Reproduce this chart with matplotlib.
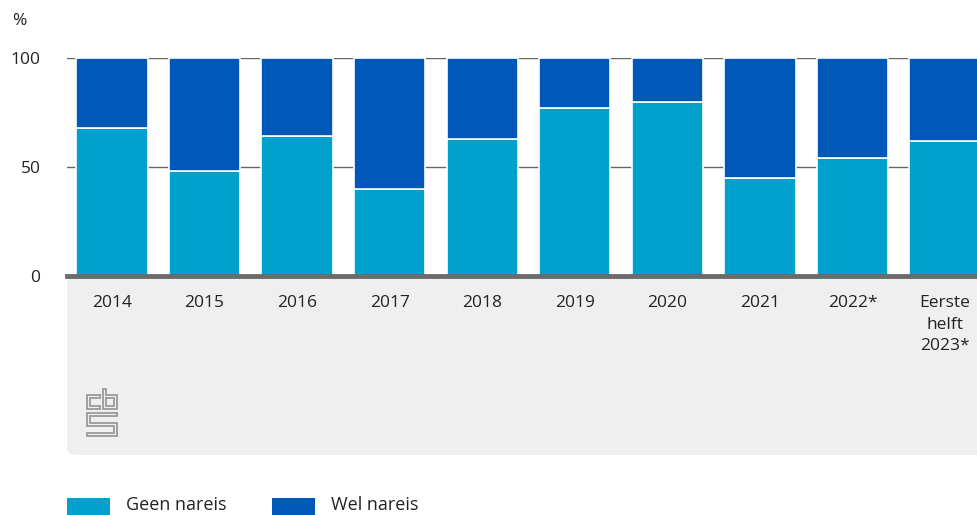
import numpy as np
import matplotlib
matplotlib.use('Agg')
import matplotlib.pyplot as plt
from matplotlib.patches import FancyBboxPatch, Rectangle

plt.rcParams['font.family'] = ['Open Sans', 'DejaVu Sans']

years = ['2014', '2015', '2016', '2017', '2018', '2019', '2020', '2021', '2022*', 'Eerste\nhelft\n2023*']
geen_nareis = [68, 48, 64, 40, 63, 77, 80, 45, 54, 62]
wel_nareis = [100 - v for v in geen_nareis]
series_labels = ['Geen nareis', 'Wel nareis']
colors = ['#00a1cd', '#0058b8']

W, H = 977, 515
fig = plt.figure(figsize=(W / 100, H / 100), dpi=100)

def fx(px):
    return px / W

def fy(py):
    return 1 - py / H

# grey band behind the category labels
band = FancyBboxPatch((fx(67), fy(455)), fx(1100 - 67), fy(277) - fy(455),
                      boxstyle='round,pad=0,rounding_size=0.012', transform=fig.transFigure,
                      facecolor='#efefef', edgecolor='none', zorder=0)
fig.add_artist(band)

ax = fig.add_axes([fx(67), fy(276), fx(990 - 67), fy(58) - fy(276)])
ax.set_facecolor('none')
x = np.arange(len(years))
ax.bar(x, geen_nareis, width=0.77, color=colors[0], edgecolor='white', linewidth=1.2, zorder=3)
ax.bar(x, wel_nareis, width=0.77, bottom=geen_nareis, color=colors[1], edgecolor='white', linewidth=1.2, zorder=3)
ax.set_xlim(-0.485, len(years) - 1 + 0.485)
ax.set_ylim(0, 100)
for yv in [50, 100]:
    ax.axhline(yv, color='#666666', linewidth=1, zorder=1)
ax.axhline(0, color='#6b6b6b', linewidth=3.5, zorder=4, clip_on=False)
for s in ax.spines.values():
    s.set_visible(False)
ax.set_yticks([0, 50, 100])
ax.set_yticklabels(['0', '50', '100'], fontsize=12.5, color='#222222')
ax.tick_params(axis='y', length=0, pad=19)
ax.set_xticks(x)
ax.set_xticklabels(years, fontsize=12.5, color='#222222', linespacing=1.45, va='top')
ax.tick_params(axis='x', length=0, pad=14)

fig.text(fx(12), fy(21), '%', fontsize=12.5, color='#222222', va='center')

# cbs logo
lax = fig.add_axes([fx(84), fy(439), fx(36), fy(386) - fy(439)])
lax.set_xlim(84, 120)
lax.set_ylim(439, 386)
lax.axis('off')
lc = '#9a9a9a'
logo_paths = [
    [(100, 395), (87, 395), (87, 409), (100, 409), (100, 406), (90, 406), (90, 398), (100, 398), (100, 395)],
    [(103, 389), (106, 389), (106, 395), (117, 395), (117, 409), (103, 409), (103, 389)],
    [(106, 398), (114, 398), (114, 406), (106, 406), (106, 398)],
    [(117, 413), (87, 413), (87, 426), (114, 426), (114, 433), (87, 433), (87, 436), (117, 436),
     (117, 423), (90, 423), (90, 416), (117, 416), (117, 413)],
]
for p in logo_paths:
    px, py = zip(*p)
    lax.plot(px, py, color=lc, linewidth=1.3, solid_joinstyle='miter')

# legend
for i, (lab, col) in enumerate(zip(series_labels, colors)):
    x0 = [67, 272][i]
    fig.add_artist(Rectangle((fx(x0), fy(517)), fx(43), fy(498) - fy(517),
                             transform=fig.transFigure, facecolor=col, edgecolor='none'))
    fig.text(fx(x0 + 59), fy(505), lab, fontsize=13, color='#222222', va='center')

fig.savefig('out.png', dpi=100)
